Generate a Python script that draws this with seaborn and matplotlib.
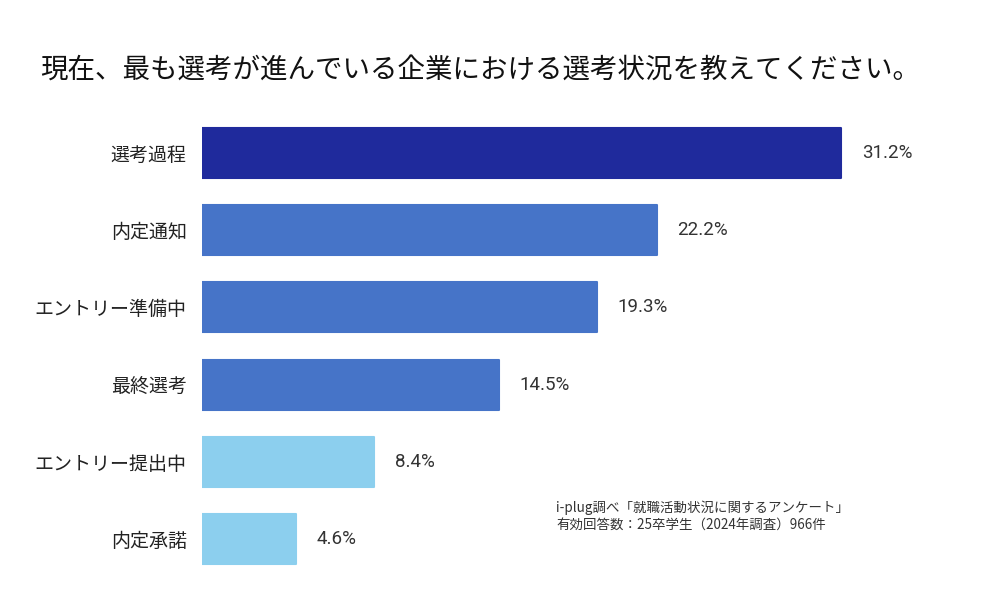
import matplotlib
matplotlib.use("Agg")
import matplotlib.pyplot as plt
import pandas as pd
import seaborn as sns

# data
categories = ["選考過程", "内定通知", "エントリー準備中", "最終選考", "エントリー提出中", "内定承諾"]
percentages = [31.2, 22.2, 19.3, 14.5, 8.4, 4.6]
bar_colors = ["#1f2a9c", "#4674c8", "#4674c8", "#4674c8", "#8ccfee", "#8ccfee"]

title = "現在、最も選考が進んでいる企業における選考状況を教えてください。"
source_lines = ["i-plug調べ「就職活動状況に関するアンケート」",
                "有効回答数：25卒学生（2024年調査）966件"]

sns.set_theme(style="white")
plt.rcParams['font.family'] = ['Noto Sans CJK JP', 'DejaVu Sans']

df = pd.DataFrame({"category": categories, "pct": percentages})

fig = plt.figure(figsize=(10, 6.16), dpi=100)
ax = fig.add_axes([0.202, 0.0623, 0.717, 0.752])

sns.barplot(data=df, x="pct", y="category", hue="category",
            palette=bar_colors, saturation=1, width=0.65, legend=False, ax=ax)

# slightly rounded corners
for patch, c in zip(ax.patches, bar_colors):
    patch.set_edgecolor(c)
    patch.set_linewidth(1.5)
    patch.set_joinstyle("round")

for i, v in enumerate(percentages):
    ax.text(v + 1.0, i, f"{v}%", va="center", ha="left",
            fontsize=13.5, color="#333333", family=['Roboto', 'DejaVu Sans'])

ax.set_xlim(0, 35)
ax.set_ylim(5.5, -0.5)
ax.set_xlabel("")
ax.set_ylabel("")
ax.set_xticks([])
ax.tick_params(axis="y", length=0, pad=11, labelsize=13.7, labelcolor="#222222")
sns.despine(ax=ax, left=True, bottom=True, top=True, right=True)

fig.text(0.04, 0.886, title, fontsize=19.8, color="#111111",
         va="center", ha="left")
fig.text(0.556, 0.175, source_lines[0], fontsize=9.7, color="#333333", va="center")
fig.text(0.556, 0.149, source_lines[1], fontsize=9.7, color="#333333", va="center")

fig.savefig("out.png", dpi=100, facecolor="white")
